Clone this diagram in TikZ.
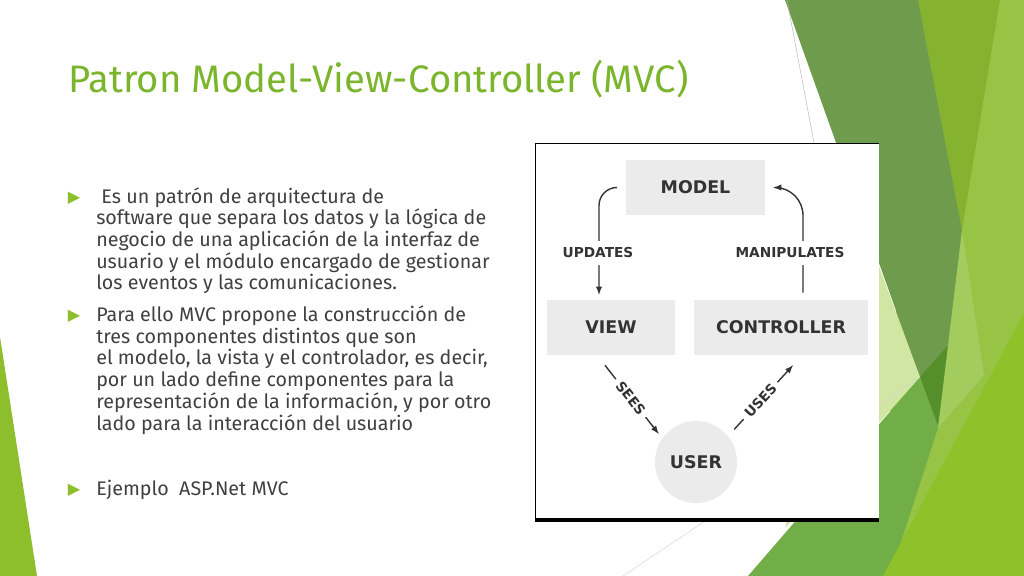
\documentclass[tikz,border=0pt]{standalone}
\usepackage{fontspec}
\setmainfont{Fira Sans}
\newfontfamily\diagfont{DejaVu Sans}
\usepackage{tikz}
\usetikzlibrary{positioning}

\definecolor{titlegreen}{RGB}{122,181,44}
\definecolor{bulletgreen}{RGB}{141,190,44}
\definecolor{bodygray}{RGB}{64,64,64}
\definecolor{boxgray}{RGB}{235,235,235}
\definecolor{boxtext}{RGB}{51,51,51}
\definecolor{facetdark}{RGB}{110,156,76}
\definecolor{facetdarker}{RGB}{84,143,44}
\definecolor{facetolive}{RGB}{134,179,47}
\definecolor{facetlight}{RGB}{151,196,68}
\definecolor{facetstrip}{RGB}{163,204,94}
\definecolor{facetlime}{RGB}{143,193,42}
\definecolor{facetmid}{RGB}{113,174,72}
\definecolor{facetpale}{RGB}{210,230,164}

\begin{document}
\begin{tikzpicture}[x=0.025cm,y=-0.025cm]

\tikzstyle{box}=[fill=boxgray, minimum height=1.375cm, text=boxtext,
  font=\diagfont\bfseries\fontsize{12.4}{14}\selectfont]
\tikzstyle{lbl}=[fill=white, text=boxtext, inner xsep=0.12cm, inner ysep=0.17cm,
  font=\diagfont\bfseries\fontsize{9.75}{11}\selectfont]
\tikzstyle{flow}=[->, >=latex, line width=1pt, draw=boxtext]
\tikzstyle{bullet}=[text=bulletgreen, inner sep=0, font=\diagfont\fontsize{11.5}{11.5}\selectfont]
\tikzstyle{body}=[anchor=base west, inner sep=0, align=left, text=bodygray,
  font=\fontsize{14}{15.43}\selectfont]

\useasboundingbox (0,0) rectangle (1024,576);
\fill[white] (0,0) rectangle (1024,576);

% background facets
\fill[facetlight] (915,0) -- (1024,0) -- (1024,576) -- (880,576) -- cycle;
\fill[facetolive] (918,0) -- (1000,0) -- (962,230) -- cycle;
\fill[facetdark] (785,0) -- (918,0) -- (962,230) -- (960,275) -- (938,428) -- cycle;
\fill[facetdarker] (920,377) -- (950,343) -- (938,425) -- cycle;
\fill[facetstrip] (962,230) -- (984,375) -- (938,428) -- cycle;
\fill[facetmid] (920,377) -- (938,428) -- (890,576) -- (748,576) -- cycle;
\fill[facetlime] (883,576) -- (1024,313) -- (1024,576) -- cycle;
\fill[facetpale] (860,215) -- (920,377) -- (785,528) -- cycle;
\fill[bulletgreen] (0,337) -- (37,576) -- (0,576) -- cycle;
\draw[gray!60, line width=0.3pt] (787,0) -- (814,143);
\draw[gray!35, line width=0.3pt] (623,576) -- (920,377);

% title
\node[anchor=base west, inner sep=0, text=titlegreen,
  font=\fontsize{27.2}{32}\selectfont] (title) at (68,93)
  {Patron Model-View-Controller (MVC)};

% bullets (text nodes sit on the baseline of their last line)
\pgfmathsetmacro\x{96}
\pgfmathsetmacro\y{203+4*21.7}
\node[bullet] (b1) at (74,198) {▶};
\node[body] (text1) at (\x,\y)
  {\ Es un patrón de arquitectura de\\
   software que separa los datos y la lógica de\\
   negocio de una aplicación de la interfaz de\\
   usuario y el módulo encargado de gestionar\\
   los eventos y las comunicaciones.};

\pgfmathsetmacro\y{321.5+5*21.7}
\node[bullet] (b2) at (74,316) {▶};
\node[body] (text2) at (\x,\y)
  {Para ello MVC propone la construcción de\\
   tres componentes distintos que son\\
   el modelo, la vista y el controlador, es decir,\\
   por un lado define componentes para la\\
   representación de la información, y por otro\\
   lado para la interacción del usuario};

\pgfmathsetmacro\y{495}
\node[bullet] (b3) at (74,490) {▶};
\node[body] (text3) at (\x,\y) {Ejemplo\ \ ASP.Net MVC};

% diagram frame
\fill[white] (535,143) rectangle (879,520);
\draw[line width=0.6pt] (879,143) -- (535,143) -- (535,520);
\draw[line width=2.4pt] (535,520) -- (879,520);

% components
\node[box, minimum width=3.475cm] (model) at (695.5,187.5) {MODEL};
\node[box, minimum width=3.2cm] (view) at (611,327.5) {VIEW};
\node[box, minimum width=4.35cm] (controller) at (781,327.5) {CONTROLLER};
\node[box, circle, inner sep=0, minimum size=2.05cm] (user) at (696,462) {USER};

% connectors
\draw[flow, rounded corners=0.45cm] ([xshift=-0.225cm]model.west)
  -| ([xshift=-0.3cm,yshift=0.125cm]view.north);
\draw[flow, rounded corners=0.7cm] ([xshift=0.55cm,yshift=0.175cm]controller.north)
  |- ([xshift=0.2cm]model.east);
\node[lbl] (updates) at (598,253) {UPDATES};
\node[lbl] (manipulates) at (790,253) {MANIPULATES};

\draw[flow, shorten >=0.14cm] ([xshift=-0.15cm,yshift=-0.25cm]view.south)
  -- (user.145) node[lbl, sloped, pos=0.45] (sees) {SEES};
\draw[flow, shorten <=0.225cm] (user.39)
  -- ([xshift=0.3cm,yshift=-0.25cm]controller.south) node[lbl, sloped, pos=0.5] (uses) {USES};

\end{tikzpicture}
\end{document}
